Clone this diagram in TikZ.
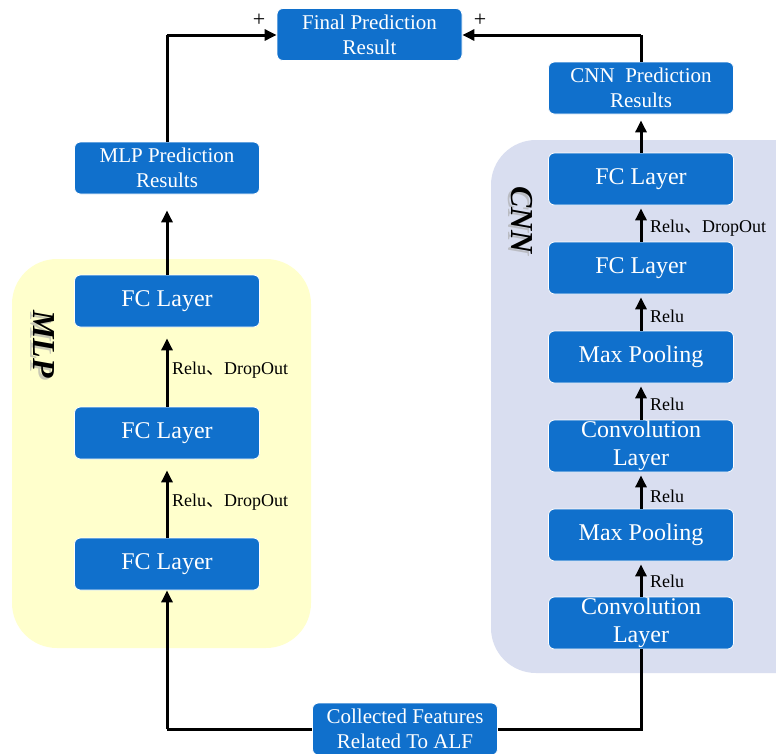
\documentclass[tikz,border=0pt]{standalone}
\usepackage{fontspec}
\setmainfont{Liberation Serif}
\newfontfamily\cjk{Noto Sans CJK SC}
\usetikzlibrary{arrows.meta}
\definecolor{boxblue}{RGB}{16,112,204}
\definecolor{mlpbg}{RGB}{255,255,204}
\definecolor{cnnbg}{RGB}{217,222,240}
\begin{document}
\begin{tikzpicture}[x=1pt,y=-1pt,
  blk/.style={fill=boxblue, draw=white, line width=0.8pt, rounded corners=6pt,
    minimum width=185pt, minimum height=52pt, text=white, align=center,
    inner sep=1pt, font=\fontsize{24}{28}\selectfont},
  blks/.style={blk, font=\fontsize{21}{25}\selectfont},
  arr/.style={-{Triangle[length=12pt,width=11pt]}, line width=3pt},
  ln/.style={line width=3pt},
  lbl/.style={font=\fontsize{18}{20}\selectfont, anchor=west, inner sep=0pt},
  grp/.style={font=\fontsize{32}{34}\selectfont\bfseries\itshape, rotate=-90, inner sep=0pt}]
\useasboundingbox (0,0) rectangle (776,753);
\fill[white] (0,0) rectangle (776,753);
\begin{scope}
\clip (0,0) rectangle (776,753);
% group backgrounds
\fill[mlpbg, rounded corners=45pt] (12,259) rectangle (311,648);
\fill[cnnbg, rounded corners=45pt] (491,140) rectangle (830,673);
% group labels
\node[grp, text=gray!70, opacity=0.6] at (41,346) {MLP};
\node[grp] (mlplbl) at (44,344) {MLP};
\node[grp, text=gray!70, opacity=0.6] at (519,222) {CNN};
\node[grp] (cnnlbl) at (522,220) {CNN};
% nodes
\node[blks] (final) at (369.5,34.5) {Final Prediction\\Result};
\node[blks] (cnnpred) at (641,88) {CNN\ \ Prediction\\Results};
\node[blks] (mlppred) at (167,168) {MLP Prediction\\Results};
\node[blk] (m3) at (167,301) {FC Layer\strut};
\node[blk] (m2) at (167,433) {FC Layer\strut};
\node[blk] (m1) at (167,564) {FC Layer\strut};
\node[blk] (c6) at (641,179) {FC Layer\strut};
\node[blk] (c5) at (641,268) {FC Layer\strut};
\node[blk] (c4) at (641,357) {Max Pooling\strut};
\node[blk] (c3) at (641,446) {Convolution\\Layer};
\node[blk] (c2) at (641,535) {Max Pooling\strut};
\node[blk] (c1) at (641,623) {Convolution\\Layer};
\node[blks] (input) at (405,729) {Collected Features\\Related To ALF};
\end{scope}
% connectors: input
\coordinate (bl) at (167,729);
\coordinate (br) at (641,729);
\draw[ln] (input.west) -- (bl);
\draw[arr] (bl) -- (m1.south);
\draw[ln] (input.east) -- (br) -- (c1.south);
% MLP
\draw[arr, shorten >=11pt] (m1.north) -- (m2.south);
\draw[arr, shorten >=11pt] (m2.north) -- (m3.south);
\draw[arr, shorten >=16pt] (m3.north) -- (mlppred.south);
\node[lbl] (ml1) at (172,502) {Relu{\cjk 、}DropOut};
\node[lbl] (ml2) at (172,370) {Relu{\cjk 、}DropOut};
% CNN
\draw[arr, shorten >=3pt] (c1.north) -- (c2.south);
\draw[arr, shorten >=3pt] (c2.north) -- (c3.south);
\draw[arr, shorten >=3pt] (c3.north) -- (c4.south);
\draw[arr, shorten >=3pt] (c4.north) -- (c5.south);
\draw[arr, shorten >=3pt] (c5.north) -- (c6.south);
\draw[arr, shorten >=6pt] (c6.north) -- (cnnpred.south);
\node[lbl] (cl1) at (650,581) {Relu};
\node[lbl] (cl2) at (650,496) {Relu};
\node[lbl] (cl3) at (650,404) {Relu};
\node[lbl] (cl4) at (650,316) {Relu};
\node[lbl] (cl5) at (650,228) {Relu{\cjk 、}DropOut};
% to final
\coordinate (tl) at (167,35);
\coordinate (tr) at (641,35);
\draw[ln] (mlppred.north) -- (tl);
\draw[arr] (tl) -- (final.west |- tl);
\draw[ln] (cnnpred.north) -- (tr);
\draw[arr] (tr) -- (final.east |- tr);
\node[font=\fontsize{22}{24}\selectfont, inner sep=0pt] (pl) at (259,20) {+};
\node[font=\fontsize{22}{24}\selectfont, inner sep=0pt] (pr) at (480,20) {+};
\end{tikzpicture}
\end{document}
